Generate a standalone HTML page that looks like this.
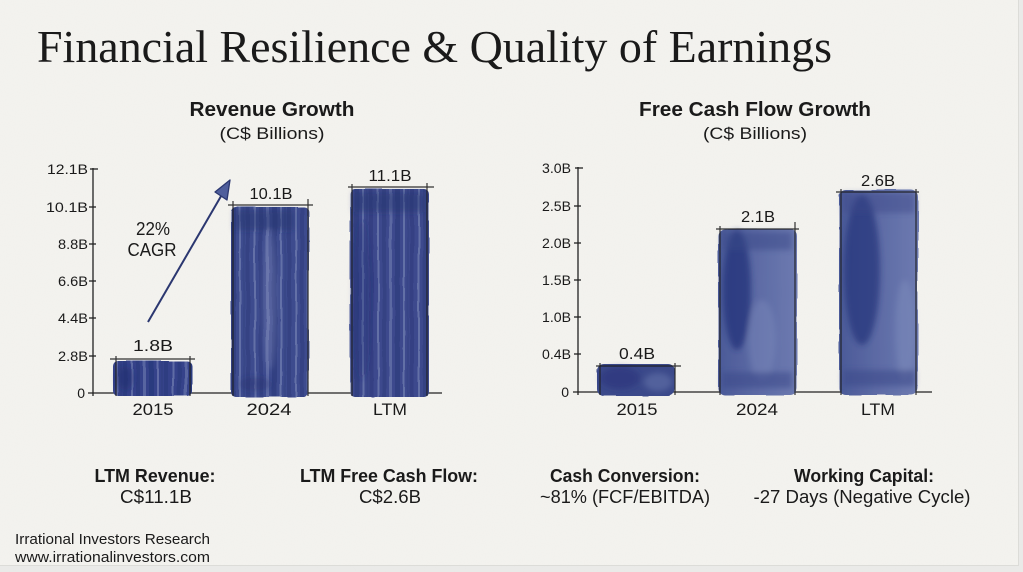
<!DOCTYPE html>
<html><head><meta charset="utf-8"><style>
html,body{margin:0;padding:0;width:1023px;height:572px;overflow:hidden;background:#ebebe9}
svg{display:block}
text{font-family:"Liberation Sans",Arial,sans-serif;fill:#1a1a1a}
</style></head><body>
<svg width="1023" height="572" viewBox="0 0 1023 572" xmlns="http://www.w3.org/2000/svg">
<defs>
<filter id="rough" x="-10%" y="-10%" width="120%" height="120%">
<feTurbulence type="fractalNoise" baseFrequency="0.03" numOctaves="2" seed="4" result="n"/>
<feDisplacementMap in="SourceGraphic" in2="n" scale="3"/>
</filter>
<filter id="soft" x="-30%" y="-30%" width="160%" height="160%"><feGaussianBlur stdDeviation="3"/></filter>
<filter id="paper"><feTurbulence type="fractalNoise" baseFrequency="0.9" numOctaves="2" seed="2"/><feColorMatrix values="0 0 0 0 0.5  0 0 0 0 0.5  0 0 0 0 0.48  0 0 0 0.05 0"/></filter>
<pattern id="streaks" patternUnits="userSpaceOnUse" width="41" height="600">
<rect x="0" y="0" width="4" height="600" fill="#24306f" opacity=".35"/>
<rect x="8" y="0" width="2" height="600" fill="#8a95c0" opacity=".5"/>
<rect x="13" y="0" width="4" height="600" fill="#25326f" opacity=".3"/>
<rect x="20" y="0" width="3" height="600" fill="#7c88b8" opacity=".5"/>
<rect x="26" y="0" width="5" height="600" fill="#1c2866" opacity=".3"/>
<rect x="34" y="0" width="2" height="600" fill="#909bc6" opacity=".45"/>
<rect x="38" y="0" width="2" height="600" fill="#2a3775" opacity=".25"/>
</pattern>
<linearGradient id="gR" x1="0" y1="0" x2="1" y2="0">
<stop offset="0" stop-color="#4b5a98"/><stop offset=".5" stop-color="#5d6ba5"/><stop offset="1" stop-color="#6d7ab0"/>
</linearGradient>
</defs>

<rect x="0" y="0" width="1018" height="565" fill="#f4f3ef"/>
<rect x="0" y="0" width="1018" height="565" filter="url(#paper)"/>
<line x1="0" y1="565.5" x2="1018" y2="565.5" stroke="#dcdcd8" stroke-width="1"/>
<line x1="1018.5" y1="0" x2="1018.5" y2="566" stroke="#dcdcd8" stroke-width="1"/>

<text x="37" y="62" style="font-family:'Liberation Serif',serif" font-size="46" textLength="795" lengthAdjust="spacingAndGlyphs" fill="#151515">Financial Resilience &amp; Quality of Earnings</text>

<text x="272" y="116" font-size="20" font-weight="bold" text-anchor="middle" textLength="165" lengthAdjust="spacingAndGlyphs">Revenue Growth</text>
<text x="272" y="139" font-size="17" text-anchor="middle" textLength="105" lengthAdjust="spacingAndGlyphs">(C$ Billions)</text>
<text x="755" y="116" font-size="20" font-weight="bold" text-anchor="middle" textLength="232" lengthAdjust="spacingAndGlyphs">Free Cash Flow Growth</text>
<text x="755" y="139" font-size="17" text-anchor="middle" textLength="104" lengthAdjust="spacingAndGlyphs">(C$ Billions)</text>

<!-- LEFT CHART -->
<g font-size="14">
<text x="88" y="174" text-anchor="end" textLength="41" lengthAdjust="spacingAndGlyphs">12.1B</text>
<text x="88" y="212" text-anchor="end" textLength="42" lengthAdjust="spacingAndGlyphs">10.1B</text>
<text x="88" y="249" text-anchor="end" textLength="30" lengthAdjust="spacingAndGlyphs">8.8B</text>
<text x="88" y="286" text-anchor="end" textLength="30" lengthAdjust="spacingAndGlyphs">6.6B</text>
<text x="88" y="323" text-anchor="end" textLength="30" lengthAdjust="spacingAndGlyphs">4.4B</text>
<text x="88" y="361" text-anchor="end" textLength="30" lengthAdjust="spacingAndGlyphs">2.8B</text>
<text x="85" y="398" text-anchor="end">0</text>
</g>
<g stroke="#222" stroke-width="1.3" fill="none">
<line x1="93" y1="168" x2="93" y2="396"/>
<line x1="90" y1="169" x2="98" y2="169"/>
<line x1="89" y1="207" x2="96" y2="207"/>
<line x1="89" y1="244" x2="96" y2="244"/>
<line x1="89" y1="281" x2="96" y2="281"/>
<line x1="89" y1="318" x2="96" y2="318"/>
<line x1="89" y1="356" x2="96" y2="356"/>
<line x1="88" y1="393" x2="442" y2="393"/>
</g>

<g filter="url(#rough)">
<rect x="113" y="361" width="79" height="35" rx="5" fill="#34428a"/>
<rect x="113" y="361" width="79" height="35" rx="5" fill="url(#streaks)"/>
<rect x="231" y="207" width="78" height="190" rx="5" fill="#3d4b8e"/>
<rect x="231" y="207" width="78" height="190" rx="5" fill="url(#streaks)"/>
<rect x="350" y="189" width="79" height="208" rx="5" fill="#3c4a8d"/>
<rect x="350" y="189" width="79" height="208" rx="5" fill="url(#streaks)"/>
</g>
<g filter="url(#soft)">
<rect x="234" y="210" width="60" height="20" fill="#24306f" opacity=".45"/>
<rect x="353" y="192" width="70" height="20" fill="#24306f" opacity=".45"/>
<ellipse cx="362" cy="300" rx="9" ry="80" fill="#23306f" opacity=".3"/>
<ellipse cx="270" cy="300" rx="7" ry="70" fill="#8a95c0" opacity=".3"/>
<ellipse cx="255" cy="384" rx="16" ry="7" fill="#24306f" opacity=".4"/>
<ellipse cx="125" cy="378" rx="9" ry="12" fill="#1c2866" opacity=".4"/>
</g>
<g stroke="#1e1e1e" stroke-width="1.2" fill="none" opacity=".9">
<line x1="110" y1="359" x2="195" y2="359"/>
<line x1="116" y1="356" x2="116" y2="396"/>
<line x1="190" y1="356" x2="190" y2="396"/>
<line x1="228" y1="205" x2="313" y2="205"/>
<line x1="233" y1="201" x2="233" y2="396"/>
<line x1="308" y1="199" x2="308" y2="396"/>
<line x1="348" y1="187" x2="434" y2="187"/>
<line x1="352" y1="184" x2="352" y2="396"/>
<line x1="427" y1="183" x2="427" y2="396"/>
</g>
<g font-size="16">
<text x="153" y="351" text-anchor="middle" textLength="40" lengthAdjust="spacingAndGlyphs">1.8B</text>
<text x="271" y="199" text-anchor="middle" textLength="43" lengthAdjust="spacingAndGlyphs">10.1B</text>
<text x="390" y="181" text-anchor="middle" textLength="43" lengthAdjust="spacingAndGlyphs">11.1B</text>
</g>
<g font-size="17">
<text x="153" y="415" text-anchor="middle" textLength="41" lengthAdjust="spacingAndGlyphs">2015</text>
<text x="269" y="415" text-anchor="middle" textLength="45" lengthAdjust="spacingAndGlyphs">2024</text>
<text x="390" y="415" text-anchor="middle" textLength="34" lengthAdjust="spacingAndGlyphs">LTM</text>
</g>
<line x1="148" y1="322" x2="224" y2="191" stroke="#2b3770" stroke-width="2"/>
<polygon points="230,180 227,200 215,192" fill="#4f5e9c" stroke="#2b3770" stroke-width="1.3" stroke-linejoin="round"/>
<text x="153" y="235" font-size="18" text-anchor="middle" textLength="34" lengthAdjust="spacingAndGlyphs">22%</text>
<text x="152" y="256" font-size="18" text-anchor="middle" textLength="49" lengthAdjust="spacingAndGlyphs">CAGR</text>

<!-- RIGHT CHART -->
<g font-size="14">
<text x="571" y="173" text-anchor="end" textLength="29" lengthAdjust="spacingAndGlyphs">3.0B</text>
<text x="571" y="211" text-anchor="end" textLength="29" lengthAdjust="spacingAndGlyphs">2.5B</text>
<text x="571" y="248" text-anchor="end" textLength="29" lengthAdjust="spacingAndGlyphs">2.0B</text>
<text x="571" y="285" text-anchor="end" textLength="29" lengthAdjust="spacingAndGlyphs">1.5B</text>
<text x="571" y="322" text-anchor="end" textLength="29" lengthAdjust="spacingAndGlyphs">1.0B</text>
<text x="571" y="359" text-anchor="end" textLength="29" lengthAdjust="spacingAndGlyphs">0.4B</text>
<text x="569" y="397" text-anchor="end">0</text>
</g>
<g stroke="#222" stroke-width="1.3" fill="none">
<line x1="578" y1="167" x2="578" y2="395"/>
<line x1="575" y1="168" x2="583" y2="168"/>
<line x1="574" y1="206" x2="581" y2="206"/>
<line x1="574" y1="243" x2="581" y2="243"/>
<line x1="574" y1="280" x2="581" y2="280"/>
<line x1="574" y1="317" x2="581" y2="317"/>
<line x1="574" y1="354" x2="581" y2="354"/>
<line x1="573" y1="392" x2="932" y2="392"/>
</g>

<g filter="url(#rough)">
<rect x="597" y="364" width="78" height="32" rx="7" fill="#3a488a"/>
<rect x="718" y="229" width="79" height="166" rx="7" fill="url(#gR)"/>
<rect x="839" y="190" width="79" height="205" rx="7" fill="url(#gR)"/>
</g>
<g filter="url(#soft)">
<ellipse cx="620" cy="378" rx="20" ry="11" fill="#24327a" opacity=".55"/>
<ellipse cx="658" cy="382" rx="14" ry="9" fill="#6a78ae" opacity=".5"/>
<ellipse cx="737" cy="290" rx="14" ry="60" fill="#22307a" opacity=".75"/>
<rect x="722" y="232" width="70" height="18" fill="#3a4888" opacity=".5"/>
<ellipse cx="762" cy="340" rx="14" ry="40" fill="#8490c0" opacity=".35"/>
<rect x="722" y="372" width="70" height="16" fill="#3a4888" opacity=".55"/>
<ellipse cx="862" cy="270" rx="18" ry="75" fill="#24327a" opacity=".7"/>
<rect x="843" y="193" width="72" height="20" fill="#3a4888" opacity=".45"/>
<ellipse cx="905" cy="330" rx="10" ry="50" fill="#8894c2" opacity=".35"/>
<rect x="843" y="370" width="72" height="16" fill="#3a4888" opacity=".55"/>
</g>
<g stroke="#1e1e1e" stroke-width="1.2" fill="none" opacity=".9">
<line x1="596" y1="366" x2="681" y2="366"/>
<line x1="600" y1="363" x2="600" y2="395"/>
<line x1="675" y1="363" x2="675" y2="395"/>
<line x1="716" y1="229" x2="799" y2="229"/>
<line x1="720" y1="226" x2="720" y2="395"/>
<line x1="795" y1="222" x2="795" y2="395"/>
<line x1="836" y1="192" x2="919" y2="192"/>
<line x1="841" y1="189" x2="841" y2="395"/>
<line x1="916" y1="189" x2="916" y2="395"/>
</g>
<g font-size="16">
<text x="637" y="359" text-anchor="middle" textLength="36" lengthAdjust="spacingAndGlyphs">0.4B</text>
<text x="758" y="222" text-anchor="middle" textLength="34" lengthAdjust="spacingAndGlyphs">2.1B</text>
<text x="878" y="186" text-anchor="middle" textLength="34" lengthAdjust="spacingAndGlyphs">2.6B</text>
</g>
<g font-size="17">
<text x="637" y="415" text-anchor="middle" textLength="41" lengthAdjust="spacingAndGlyphs">2015</text>
<text x="757" y="415" text-anchor="middle" textLength="42" lengthAdjust="spacingAndGlyphs">2024</text>
<text x="878" y="415" text-anchor="middle" textLength="34" lengthAdjust="spacingAndGlyphs">LTM</text>
</g>

<g font-size="18">
<text x="155" y="482" font-weight="bold" text-anchor="middle" textLength="121" lengthAdjust="spacingAndGlyphs">LTM Revenue:</text>
<text x="156" y="503" text-anchor="middle" textLength="72" lengthAdjust="spacingAndGlyphs">C$11.1B</text>
<text x="389" y="482" font-weight="bold" text-anchor="middle" textLength="178" lengthAdjust="spacingAndGlyphs">LTM Free Cash Flow:</text>
<text x="390" y="503" text-anchor="middle" textLength="62" lengthAdjust="spacingAndGlyphs">C$2.6B</text>
<text x="625" y="482" font-weight="bold" text-anchor="middle" textLength="150" lengthAdjust="spacingAndGlyphs">Cash Conversion:</text>
<text x="625" y="503" text-anchor="middle" textLength="170" lengthAdjust="spacingAndGlyphs">~81% (FCF/EBITDA)</text>
<text x="864" y="482" font-weight="bold" text-anchor="middle" textLength="140" lengthAdjust="spacingAndGlyphs">Working Capital:</text>
<text x="862" y="503" text-anchor="middle" textLength="217" lengthAdjust="spacingAndGlyphs">-27 Days (Negative Cycle)</text>
</g>

<text x="15" y="544" font-size="15" textLength="195" lengthAdjust="spacingAndGlyphs" fill="#222">Irrational Investors Research</text>
<text x="15" y="562" font-size="15" textLength="195" lengthAdjust="spacingAndGlyphs" fill="#222">www.irrationalinvestors.com</text>
</svg>
</body></html>
